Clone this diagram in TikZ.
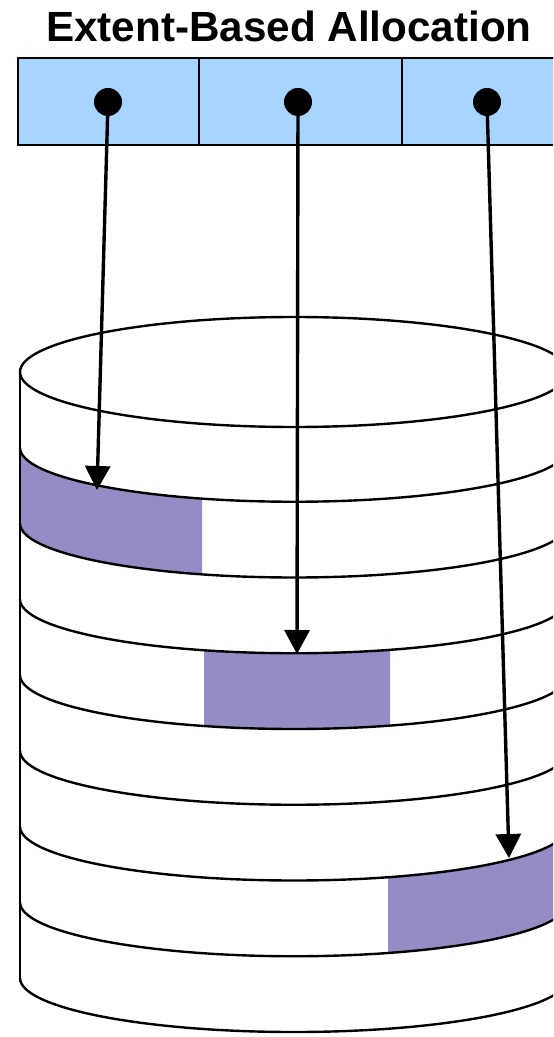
\documentclass[tikz,border=0pt]{standalone}
\usepackage{fontspec}
\setmainfont{Liberation Sans}
\usetikzlibrary{arrows.meta}
\definecolor{cellblue}{RGB}{168,213,255}
\definecolor{extentfill}{RGB}{148,140,196}

\begin{document}
\begin{tikzpicture}[x=0.5pt,y=0.5pt,
  outline/.style={line width=1.2pt},
  cell/.style={draw=black,line width=1pt,fill=cellblue,minimum height=43.5pt,inner sep=0pt},
  dotnode/.style={circle,fill=black,inner sep=0pt,minimum size=14pt},
  pointer/.style={line width=1.7pt,-{Triangle[width=12.5pt,length=12pt]}},
  ring/.style={outline},
  title/.style={font=\bfseries\fontsize{21.1pt}{25pt}\selectfont,anchor=base,inner sep=0pt}
]
\useasboundingbox (0,0) rectangle (553,-1037);
\begin{scope}
\clip (0,0) rectangle (553,-1037);

% heading
\node[title] (heading) at (289,-42) {Extent-Based Allocation};

% index block with three pointer cells
\node[cell,minimum width=90.5pt]  (c1) at (108.5,-101.5) {};
\node[cell,minimum width=101.5pt] (c2) at (300.5,-101.5) {};
\node[cell,minimum width=101.5pt] (c3) at (503.5,-101.5) {};
\node[dotnode] (d1) at (108,-102) {};
\node[dotnode] (d2) at (298,-102) {};
\node[dotnode] (d3) at (487,-102) {};

% allocated extents on the disk tracks
\begin{scope}
  \clip (20,-300) rectangle (202,-1037);
  \fill[extentfill] (20,-447.75) arc[start angle=180,end angle=360,x radius=274,y radius=54]
    -- (568,-523.5) arc[start angle=360,end angle=180,x radius=274,y radius=54] -- cycle;
\end{scope}
\begin{scope}
  \clip (204,-300) rectangle (390,-1037);
  \fill[extentfill] (20,-599.25) arc[start angle=180,end angle=360,x radius=274,y radius=54]
    -- (568,-675) arc[start angle=360,end angle=180,x radius=274,y radius=54] -- cycle;
\end{scope}
\begin{scope}
  \clip (388,-300) rectangle (600,-1037);
  \fill[extentfill] (20,-826.5) arc[start angle=180,end angle=360,x radius=274,y radius=54]
    -- (568,-902.25) arc[start angle=360,end angle=180,x radius=274,y radius=54] -- cycle;
\end{scope}

% disk cylinder with its track boundaries
\draw[outline] (294,-372) ellipse[x radius=274,y radius=55];
\draw[outline] (20,-372) -- (20,-978);
\draw[outline] (568,-372) -- (568,-978);
\foreach \k in {1,...,8}
  \draw[ring] (20,{-372-75.75*\k}) arc[start angle=180,end angle=360,x radius=274,y radius=54];

% pointers from the index cells to the extents
\coordinate (t1) at (97,-490);
\coordinate (t2) at (297,-654);
\coordinate (t3) at (509,-858);
\draw[pointer] (d1.center) -- (t1);
\draw[pointer] (d2.center) -- (t2);
\draw[pointer] (d3.center) -- (t3);
\end{scope}
\end{tikzpicture}
\end{document}
